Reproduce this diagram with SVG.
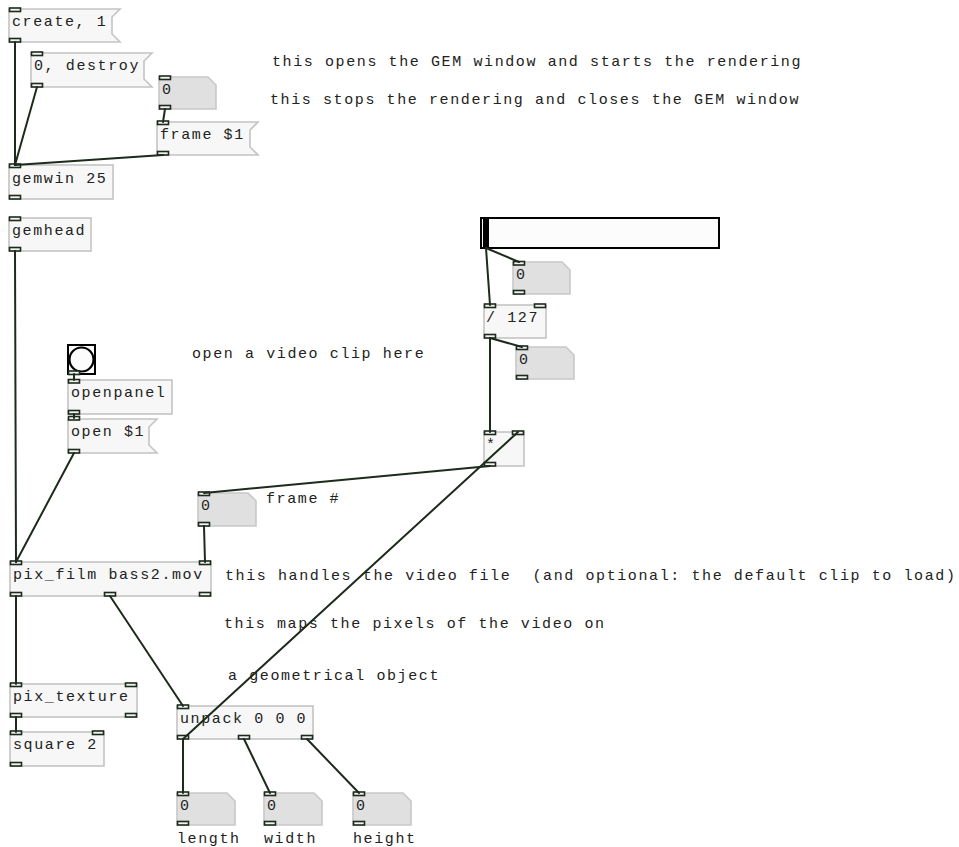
<svg xmlns="http://www.w3.org/2000/svg" width="959" height="847" viewBox="0 0 959 847">
<style>
text{font-family:"Liberation Mono","DejaVu Sans Mono",monospace;font-size:15px;letter-spacing:1.6px;fill:#222;white-space:pre}
.box{fill:#f6f7f6;stroke:#c4c4c4;stroke-width:1.6}
.atom{fill:#e0e0e0;stroke:#c8c8c8;stroke-width:1.6}
.io{fill:#f2f2f2;stroke:#1c2b1c;stroke-width:1.6}
.conn line{stroke:#1c2b1c;stroke-width:2;stroke-linecap:round}
.gui{fill:#fcfcfc;stroke:#000;stroke-width:2}
</style>
<rect width="959" height="847" fill="#fff"/>

<g id="msg-create">
<polygon class="box" points="9,9 120,9 112,17 112,34 120,42 9,42"/>
<text x="12" y="26">create, 1</text>
<rect class="io" x="9.5" y="8" width="11" height="3.5"/><rect class="io" x="9.5" y="38.5" width="11" height="3.5"/>
</g>
<g id="msg-destroy">
<polygon class="box" points="31,53 152,53 144,61 144,79 152,87 31,87"/>
<text x="34" y="70">0, destroy</text>
<rect class="io" x="31.5" y="52" width="11" height="3.5"/><rect class="io" x="31.5" y="83.5" width="11" height="3.5"/>
</g>
<g id="atom-frame">
<polygon class="atom" points="159,77 208,77 216,85 216,109 159,109"/>
<text x="162" y="94">0</text>
<rect class="io" x="159.5" y="76" width="11" height="3.5"/><rect class="io" x="159.5" y="105.5" width="11" height="3.5"/>
</g>
<g id="msg-frame">
<polygon class="box" points="157,122 258,122 250,130 250,147 258,155 157,155"/>
<text x="160" y="139">frame $1</text>
<rect class="io" x="157.5" y="121" width="11" height="3.5"/><rect class="io" x="157.5" y="151.5" width="11" height="3.5"/>
</g>
<g id="obj-gemwin">
<rect class="box" x="9" y="165" width="104" height="34"/>
<text x="12" y="183">gemwin 25</text>
<rect class="io" x="9.5" y="164" width="11" height="3.5"/><rect class="io" x="9.5" y="195.5" width="11" height="3.5"/>
</g>
<g id="obj-gemhead">
<rect class="box" x="9" y="218" width="82" height="33"/>
<text x="12" y="235">gemhead</text>
<rect class="io" x="9.5" y="217" width="11" height="3.5"/><rect class="io" x="9.5" y="247.5" width="11" height="3.5"/>
</g>

<g id="bng">
<rect class="gui" x="68" y="345" width="27" height="29"/>
<circle cx="81.5" cy="359.5" r="12" fill="none" stroke="#000" stroke-width="2.2"/>
<rect class="io" x="68.5" y="371" width="11" height="3.5"/>
</g>
<g id="obj-openpanel">
<rect class="box" x="68" y="380" width="104" height="34"/>
<text x="71" y="397">openpanel</text>
<rect class="io" x="68.5" y="379.5" width="11" height="3.5"/><rect class="io" x="68.5" y="410.5" width="11" height="3.5"/>
</g>
<g id="msg-open">
<polygon class="box" points="68,419 157,419 149,427 149,445 157,453 68,453"/>
<text x="71" y="436">open $1</text>
<rect class="io" x="68.5" y="416.5" width="11" height="3.5"/><rect class="io" x="68.5" y="449.5" width="11" height="3.5"/>
</g>

<g id="hslider">
<rect class="gui" x="481" y="218" width="238" height="30"/>
<rect x="483" y="219" width="6" height="28" fill="#000"/>
</g>
<g id="atom-slider">
<polygon class="atom" points="513,262 562,262 570,270 570,294 513,294"/>
<text x="516" y="279">0</text>
<rect class="io" x="513.5" y="261.5" width="11" height="3.5"/><rect class="io" x="513.5" y="290.5" width="11" height="3.5"/>
</g>
<g id="obj-div">
<rect class="box" x="484" y="305" width="62" height="33"/>
<text x="486" y="322">/ 127</text>
<rect class="io" x="484.5" y="304" width="11" height="3.5"/><rect class="io" x="534.5" y="304" width="11" height="3.5"/><rect class="io" x="484.5" y="334.5" width="11" height="3.5"/>
</g>
<g id="atom-div">
<polygon class="atom" points="516,347 566,347 574,355 574,379 516,379"/>
<text x="519" y="364">0</text>
<rect class="io" x="516.5" y="346" width="11" height="3.5"/><rect class="io" x="516.5" y="375.5" width="11" height="3.5"/>
</g>
<g id="obj-mul">
<rect class="box" x="484" y="432" width="40" height="34"/>
<text x="486" y="449">*</text>
<rect class="io" x="484.5" y="431" width="11" height="3.5"/><rect class="io" x="512.5" y="431" width="11" height="3.5"/><rect class="io" x="484.5" y="462.5" width="11" height="3.5"/>
</g>
<g id="atom-framenum">
<polygon class="atom" points="198,493 248,493 256,501 256,526 198,526"/>
<text x="201" y="510">0</text>
<rect class="io" x="198.5" y="492" width="11" height="3.5"/><rect class="io" x="198.5" y="522.5" width="11" height="3.5"/>
</g>
<g id="obj-pixfilm">
<rect class="box" x="10" y="562" width="201" height="34"/>
<text x="13" y="579">pix_film bass2.mov</text>
<rect class="io" x="10.5" y="561" width="11" height="3.5"/><rect class="io" x="199.5" y="561" width="11" height="3.5"/>
<rect class="io" x="10.5" y="592.5" width="11" height="3.5"/><rect class="io" x="104.5" y="592.5" width="11" height="3.5"/><rect class="io" x="199.5" y="592.5" width="11" height="3.5"/>
</g>
<g id="obj-pixtexture">
<rect class="box" x="10" y="684" width="127" height="33"/>
<text x="13" y="701">pix_texture</text>
<rect class="io" x="10.5" y="683" width="11" height="3.5"/><rect class="io" x="125.5" y="683" width="11" height="3.5"/>
<rect class="io" x="10.5" y="713.5" width="11" height="3.5"/><rect class="io" x="125.5" y="713.5" width="11" height="3.5"/>
</g>
<g id="obj-square">
<rect class="box" x="10" y="732" width="94" height="34"/>
<text x="13" y="749">square 2</text>
<rect class="io" x="10.5" y="731" width="11" height="3.5"/><rect class="io" x="92.5" y="731" width="11" height="3.5"/>
<rect class="io" x="10.5" y="762.5" width="11" height="3.5"/>
</g>
<g id="obj-unpack">
<rect class="box" x="177" y="706" width="136" height="33"/>
<text x="180" y="723">unpack 0 0 0</text>
<rect class="io" x="177.5" y="705" width="11" height="3.5"/>
<rect class="io" x="177.5" y="735.5" width="11" height="3.5"/><rect class="io" x="238.5" y="735.5" width="11" height="3.5"/><rect class="io" x="301.5" y="735.5" width="11" height="3.5"/>
</g>
<g id="atom-length">
<polygon class="atom" points="177,793 227,793 235,801 235,825 177,825"/>
<text x="180" y="810">0</text>
<rect class="io" x="177.5" y="792" width="11" height="3.5"/><rect class="io" x="177.5" y="821.5" width="11" height="3.5"/>
</g>
<g id="atom-width">
<polygon class="atom" points="264,793 314,793 322,801 322,825 264,825"/>
<text x="267" y="810">0</text>
<rect class="io" x="264.5" y="792" width="11" height="3.5"/><rect class="io" x="264.5" y="821.5" width="11" height="3.5"/>
</g>
<g id="atom-height">
<polygon class="atom" points="353,793 403,793 411,801 411,825 353,825"/>
<text x="356" y="810">0</text>
<rect class="io" x="353.5" y="792" width="11" height="3.5"/><rect class="io" x="353.5" y="821.5" width="11" height="3.5"/>
</g>

<g id="comments">
<text x="272" y="66">this opens the GEM window and starts the rendering</text>
<text x="270" y="104">this stops the rendering and closes the GEM window</text>
<text x="192" y="358">open a video clip here</text>
<text x="266" y="503">frame #</text>
<text x="225" y="580">this handles the video file  (and optional: the default clip to load)</text>
<text x="224" y="628">this maps the pixels of the video on</text>
<text x="228" y="680">a geometrical object</text>
<text x="177" y="843">length</text>
<text x="264" y="843">width</text>
<text x="353" y="843">height</text>
</g>

<g id="connectors" class="conn">
<line x1="15" y1="42" x2="15" y2="165"/>
<line x1="37" y1="87" x2="15" y2="165"/>
<line x1="165" y1="109" x2="163" y2="122"/>
<line x1="163" y1="155" x2="15" y2="165"/>
<line x1="15" y1="251" x2="16" y2="562"/>
<line x1="74" y1="374" x2="74" y2="380"/>
<line x1="74" y1="414" x2="74" y2="418"/>
<line x1="74" y1="453" x2="16" y2="562"/>
<line x1="486" y1="248" x2="519" y2="262"/>
<line x1="486" y1="248" x2="490" y2="305"/>
<line x1="490" y1="338" x2="522" y2="347"/>
<line x1="490" y1="338" x2="490" y2="432"/>
<line x1="490" y1="466" x2="204" y2="493"/>
<line x1="183" y1="739" x2="518" y2="432"/>
<line x1="204" y1="526" x2="205" y2="562"/>
<line x1="16" y1="596" x2="16" y2="684"/>
<line x1="110" y1="596" x2="183" y2="706"/>
<line x1="16" y1="717" x2="16" y2="732"/>
<line x1="183" y1="739" x2="183" y2="793"/>
<line x1="244" y1="739" x2="270" y2="793"/>
<line x1="307" y1="739" x2="359" y2="793"/>
</g>
</svg>
